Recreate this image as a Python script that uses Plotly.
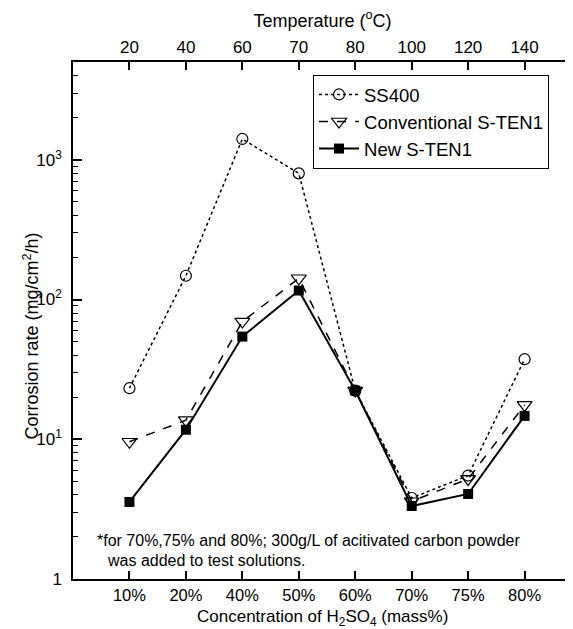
import plotly.graph_objects as go

concentrations = ["10%", "20%", "40%", "50%", "60%", "70%", "75%", "80%"]
temperatures = ["20", "40", "60", "70", "80", "100", "120", "140"]
ss400 = [23.2, 148, 1410, 800, 22.3, 3.8, 5.5, 37.4]
conventional = [9.6, 13.7, 69.5, 142, 22.3, 3.6, 5.2, 17.6]
new_sten1 = [3.56, 11.7, 54.3, 116, 22.3, 3.33, 4.06, 14.7]

y_major = [1, 10, 100, 1000]
y_major_text = ["1", "10<sup>1</sup>", "10<sup>2</sup>", "10<sup>3</sup>"]
y_minor = [m * 10 ** k for k in range(4) for m in range(2, 10) if m * 10 ** k <= 5000]

FONT = "Liberation Sans, Arial, sans-serif"

fig = go.Figure()
fig.add_trace(go.Scatter(
    x=concentrations, y=ss400, name="SS400", mode="lines+markers",
    line=dict(color="black", width=1.5, dash="dot"),
    marker=dict(symbol="circle-open", size=11, color="black", line=dict(width=1.2)),
))
fig.add_trace(go.Scatter(
    x=concentrations, y=conventional, name="Conventional S-TEN1", mode="lines+markers",
    line=dict(color="black", width=1.5, dash="dash"),
    marker=dict(symbol="triangle-down-open", size=13, color="black", line=dict(width=1.2)),
))
fig.add_trace(go.Scatter(
    x=concentrations, y=new_sten1, name="New S-TEN1", mode="lines+markers",
    line=dict(color="black", width=2),
    marker=dict(symbol="square", size=10, color="black"),
))
# invisible trace to carry the top temperature axis
fig.add_trace(go.Scatter(
    x=temperatures, y=ss400, xaxis="x2", mode="markers",
    marker=dict(opacity=0), showlegend=False, hoverinfo="skip",
))

axis_common = dict(showgrid=False, zeroline=False, linecolor="black", linewidth=1.5,
                   ticks="inside", tickcolor="black", tickwidth=1.5, automargin=False,
                   tickfont=dict(family=FONT, size=17, color="black"))

fig.update_layout(
    width=565, height=621,
    margin=dict(l=65, r=1, t=54, b=50),
    paper_bgcolor="white", plot_bgcolor="white",
    font=dict(family=FONT, size=17, color="black"),
    xaxis=dict(**axis_common, type="category", categoryorder="array",
               categoryarray=concentrations, range=[-1.0, 7.84], ticklen=8,
               showline=True, mirror=True, ticklabelstandoff=0),
    xaxis2=dict(**axis_common, type="category", categoryorder="array",
                categoryarray=temperatures, range=[-1.0, 7.84], ticklen=8,
                overlaying="x", side="top", showline=False, ticklabelstandoff=5,
                title=dict(text="Temperature (<sup>o</sup>C)",
                           font=dict(family=FONT, size=18), standoff=5)),
    yaxis=dict(**axis_common, type="log", range=[0, 3.70], ticklen=9,
               tickvals=y_major, ticktext=y_major_text, ticklabelstandoff=6,
               showline=True, mirror=True,
               minor=dict(tickvals=y_minor, ticks="inside", ticklen=5, tickwidth=1.2,
                          tickcolor="black", showgrid=False)),
    legend=dict(x=0.481, y=0.975, xanchor="left", yanchor="top",
                bordercolor="black", borderwidth=1, bgcolor="white",
                font=dict(family=FONT, size=18.5, color="black"),
                itemwidth=40, tracegroupgap=0),
    showlegend=True,
)
fig.update_xaxes(tickfont_size=16.5, selector=dict(side="bottom"))
fig.layout.xaxis.tickfont.size = 16.5

fig.add_annotation(text="Concentration of H<sub>2</sub>SO<sub>4</sub> (mass%)",
                   xref="paper", yref="paper", x=0.5, y=(579 - 618) / 517,
                   xanchor="center", yanchor="middle", showarrow=False,
                   font=dict(family=FONT, size=17, color="black"))
fig.add_annotation(text="Corrosion rate (mg/cm<sup>2</sup>/h)", textangle=-90,
                   xref="paper", yref="paper", x=-0.085, y=(579 - 336) / 517,
                   xanchor="center", yanchor="middle", showarrow=False,
                   font=dict(family=FONT, size=18, color="black"))
fig.add_annotation(text="*for 70%,75% and 80%; 300g/L of acitivated carbon powder",
                   xref="paper", yref="paper", x=0.044, y=(579 - 540) / 517,
                   xanchor="left", yanchor="middle", showarrow=False,
                   font=dict(family=FONT, size=16, color="black"))
fig.add_annotation(text="was added to test solutions.",
                   xref="paper", yref="paper", x=0.064, y=(579 - 560) / 517,
                   xanchor="left", yanchor="middle", showarrow=False,
                   font=dict(family=FONT, size=16, color="black"))

fig.write_html("out.html")
